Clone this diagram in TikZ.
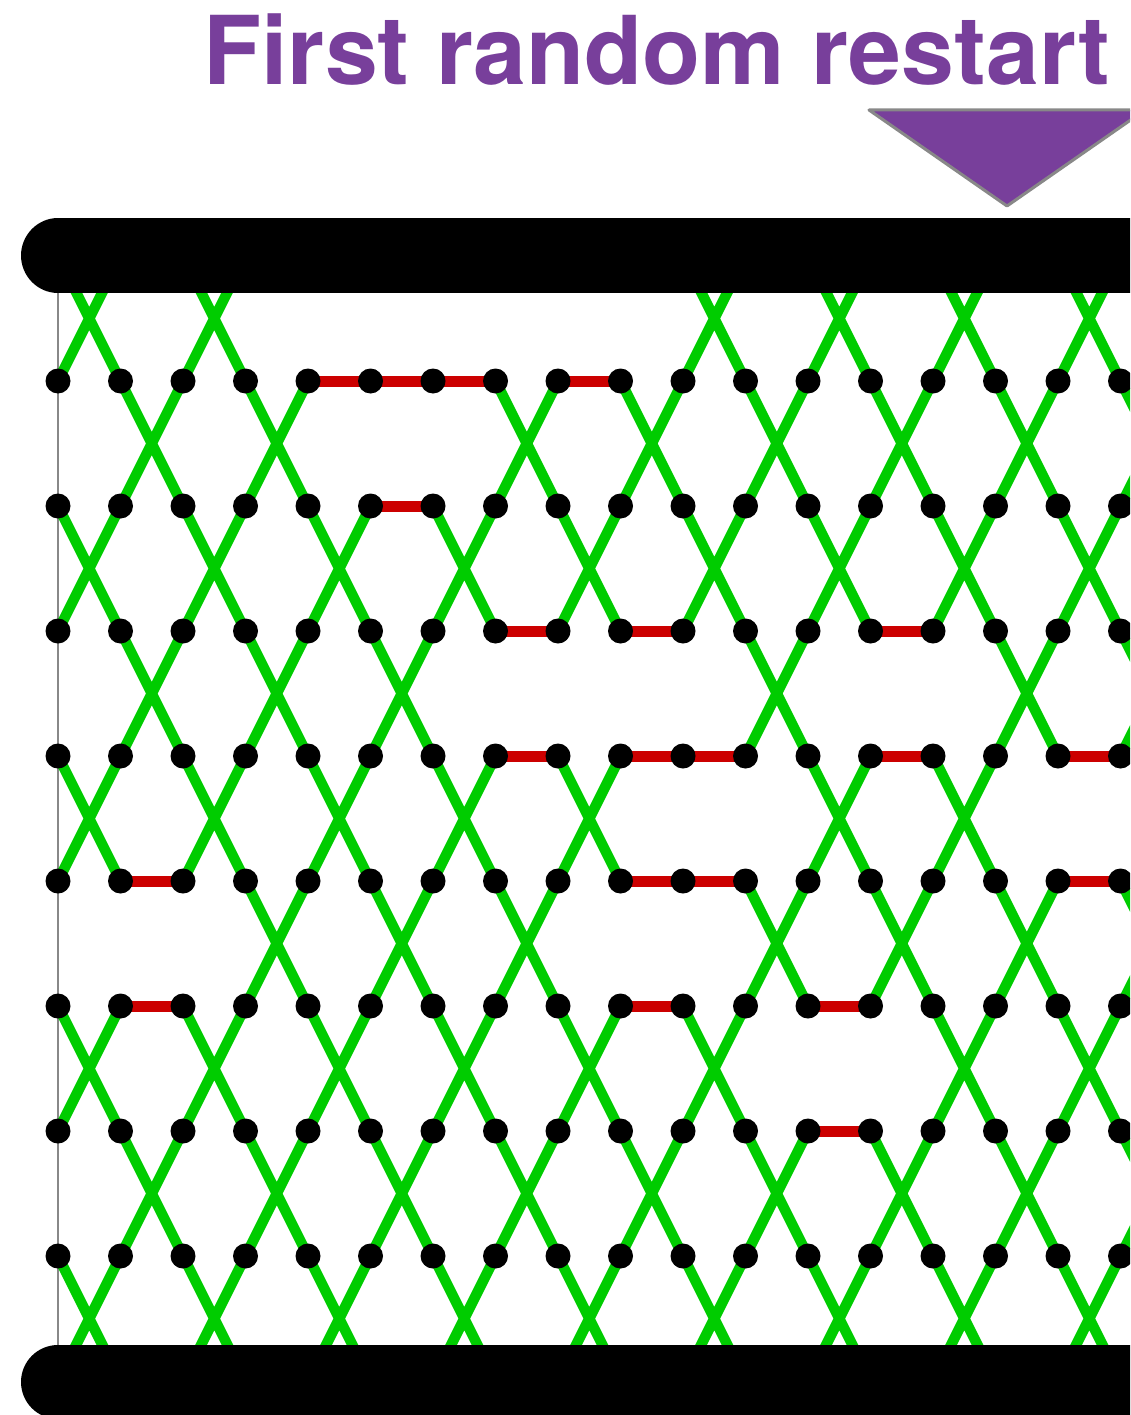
\documentclass[tikz,border=0pt]{standalone}
\usepackage{fontspec}
\setmainfont{TeX Gyre Heros}
\definecolor{lgreen}{RGB}{0,204,0}
\definecolor{lred}{RGB}{204,0,0}
\definecolor{tpurple}{RGB}{120,63,155}
\definecolor{edgegray}{RGB}{136,136,136}
\tikzset{
  greenline/.style={draw=lgreen, line width=10.5pt},
  redline/.style={draw=lred, line width=11pt},
  dotnode/.style={circle, fill=black, inner sep=0pt, minimum size=25pt},
  barline/.style={draw=black, line width=74pt, line cap=round},
  boundary/.style={draw=edgegray, line width=1.5pt},
  titlestyle/.style={anchor=base, inner sep=0pt, text=tpurple, font=\fontsize{95}{100}\selectfont\bfseries}
}
\newcommand{\gapcross}[2]{%
  \foreach \a in {#2}{%
    \pgfmathtruncatemacro{\bb}{\a+1}%
    \pgfmathtruncatemacro{\rr}{#1+1}%
    \draw[greenline] (p-\a-#1) -- (p-\bb-\rr) (p-\bb-#1) -- (p-\a-\rr);
  }%
}
\newcommand{\rowred}[2]{%
  \foreach \a in {#2}{%
    \pgfmathtruncatemacro{\bb}{\a+1}%
    \draw[redline] (p-\a-#1) -- (p-\bb-#1);
  }%
}
\begin{document}
\begin{tikzpicture}[x=1pt,y=-1pt]
\useasboundingbox (0,0) rectangle (1130,1415);
\clip (0,0) rectangle (1130,1415);
% grid coordinates
\foreach \c in {0,...,18}{
  \foreach \r in {-1,...,8}{
    \coordinate (p-\c-\r) at ({58+62.5*\c},{381+125*\r});
  }
}
\coordinate (btop) at (58,293);
\coordinate (bbot) at (58,1345);
% left boundary line
\draw[boundary] (btop) -- (bbot);
% green crossings per gap
\gapcross{-1}{0,2,10,12,14,16}
\gapcross{0}{1,3,7,9,11,13,15,17}
\gapcross{1}{0,2,4,6,8,10,12,14,16}
\gapcross{2}{1,3,5,11,15,17}
\gapcross{3}{0,2,4,6,8,12,14}
\gapcross{4}{3,5,7,11,13,15,17}
\gapcross{5}{0,2,4,6,8,10,14,16}
\gapcross{6}{1,3,5,7,9,11,13,15,17}
\gapcross{7}{0,2,4,6,8,10,12,14,16}
% red horizontal bonds
\rowred{0}{4,5,6,8}
\rowred{1}{5}
\rowred{2}{7,9,13}
\rowred{3}{7,9,10,13,16}
\rowred{4}{1,9,10,16}
\rowred{5}{1,9,12}
\rowred{6}{12}
% dots
\foreach \c in {0,...,18}{
  \foreach \r in {0,...,7}{
    \node[dotnode] (d-\c-\r) at (p-\c-\r) {};
  }
}
% bars
\coordinate (topL) at (58,255.5);
\coordinate (topR) at (1250,255.5);
\coordinate (botL) at (58,1382);
\coordinate (botR) at (1250,1382);
\draw[barline] (topL) -- (topR);
\draw[barline] (botL) -- (botR);
% title and marker
\node[titlestyle] (title) at (656.5,85) {First random restart};
\filldraw[fill=tpurple, draw=edgegray, line width=3pt, line join=round] (869,110) -- (1145,110) -- (1007,206) -- cycle;
\end{tikzpicture}
\end{document}
